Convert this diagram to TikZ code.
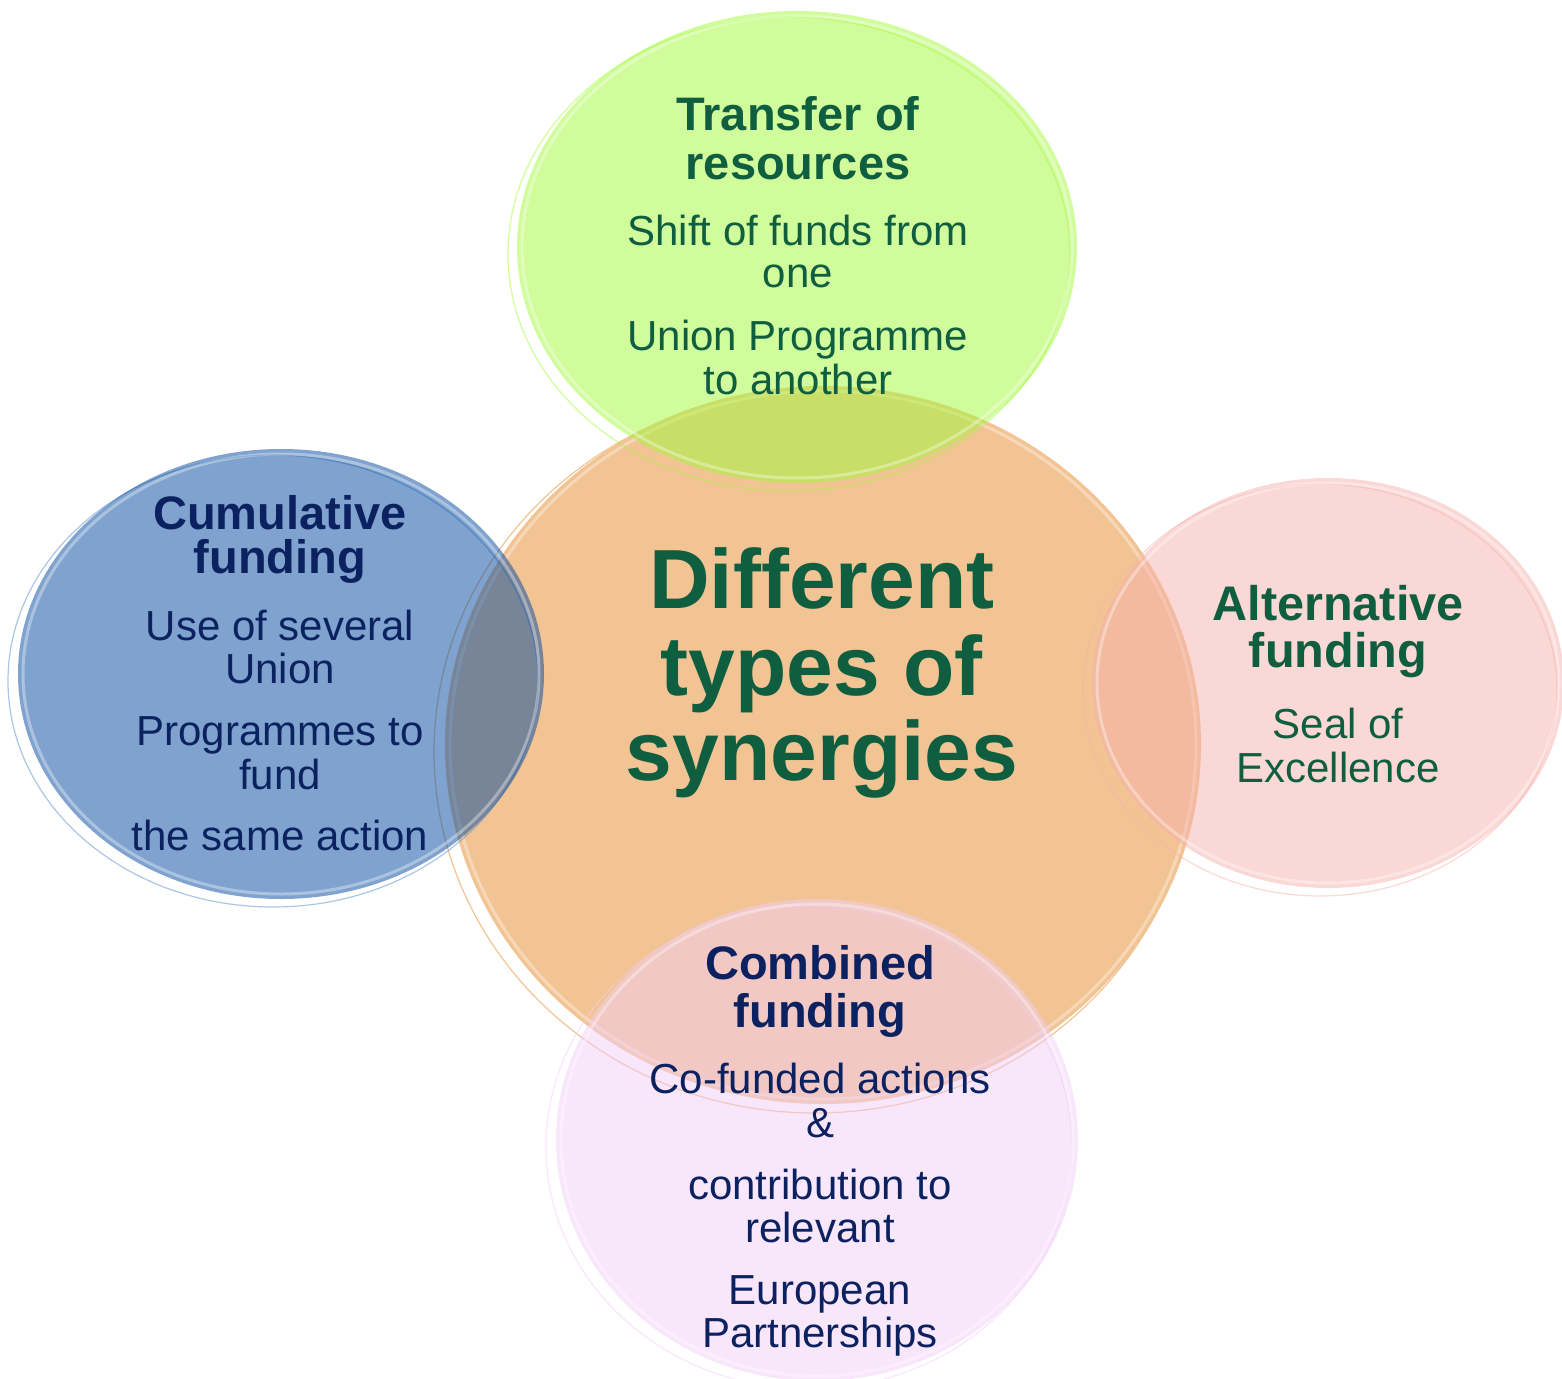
\documentclass[tikz,border=0pt]{standalone}
\usepackage{fontspec}
\setmainfont{Liberation Sans}
\definecolor{orangeC}{RGB}{242,196,148}
\definecolor{greenC}{RGB}{161,249,57}
\definecolor{blueC}{RGB}{0,71,157}
\definecolor{blueRing}{RGB}{90,140,205}
\definecolor{pinkC}{RGB}{245,177,173}
\definecolor{purpleC}{RGB}{241,205,245}
\definecolor{txtgreen}{RGB}{16,94,64}
\definecolor{txtnavy}{RGB}{12,34,96}
\tikzset{
  bubble/.style={fill=#1, fill opacity=0.5, draw=none},
  ring/.style={draw=#1, draw opacity=0.5, line width=0.6pt, fill=none},
  gloss/.style={draw=white, draw opacity=0.35, line width=1.5pt, fill=none},
  line/.style={anchor=base, inner sep=0pt, font=\fontsize{21}{21}\selectfont},
  head/.style={anchor=base, inner sep=0pt, font=\fontsize{23.5}{23.5}\selectfont\bfseries},
  headbig/.style={anchor=base, inner sep=0pt, font=\fontsize{24.3}{24.3}\selectfont\bfseries},
  big/.style={anchor=base, inner sep=0pt, font=\fontsize{42}{42}\selectfont\bfseries, text=txtgreen},
}
\begin{document}
\begin{tikzpicture}[x=0.5pt,y=-0.5pt]
\useasboundingbox (0,0) rectangle (1562,1379);
\clip (0,0) rectangle (1562,1379);
% centre
\draw[ring=orangeC, draw opacity=1] (815,752) ellipse [x radius=381, y radius=361];
\fill[orangeC] (823,745) ellipse [x radius=378, y radius=359];
\draw[gloss] (823,745) ellipse [x radius=373, y radius=354];
% top
\draw[ring=greenC] (789,254) ellipse [x radius=281, y radius=237];
\fill[bubble=greenC] (797,247) ellipse [x radius=280, y radius=236];
\draw[gloss] (797,247) ellipse [x radius=275, y radius=231];
% left
\draw[ring=blueRing] (273,681) ellipse [x radius=265, y radius=226];
\fill[bubble=blueC] (281,674) ellipse [x radius=263, y radius=225];
\draw[gloss] (281,674) ellipse [x radius=258, y radius=220];
% right
\draw[ring=pinkC] (1320,690) ellipse [x radius=237, y radius=206];
\fill[bubble=pinkC] (1328,683) ellipse [x radius=236, y radius=205];
\draw[gloss] (1328,683) ellipse [x radius=231, y radius=200];
% bottom
\draw[ring=purpleC] (809,1147) ellipse [x radius=263, y radius=242];
\fill[bubble=purpleC] (817,1140) ellipse [x radius=261, y radius=241];
\draw[gloss] (817,1140) ellipse [x radius=256, y radius=236];
% centre text
\node[big] (c1) at (822,608) {Different};
\node[big] (c2) at (822,695) {types of};
\node[big] (c3) at (822,780) {synergies};
% top text
\node[head, text=txtgreen] (g1) at (798,131) {Transfer of};
\node[head, text=txtgreen] (g2) at (798,180) {resources};
\node[line, text=txtgreen] (g3) at (798,246) {Shift of funds from};
\node[line, text=txtgreen] (g4) at (798,288) {one};
\node[line, text=txtgreen] (g5) at (798,351) {Union Programme};
\node[line, text=txtgreen] (g6) at (798,395) {to another};
% left text
\node[head, text=txtnavy] (b1) at (280,530) {Cumulative};
\node[head, text=txtnavy] (b2) at (280,573) {funding};
\node[line, text=txtnavy] (b3) at (280,640) {Use of several};
\node[line, text=txtnavy] (b4) at (280,683) {Union};
\node[line, text=txtnavy] (b5) at (280,745) {Programmes to};
\node[line, text=txtnavy] (b6) at (280,789) {fund};
\node[line, text=txtnavy] (b7) at (280,850) {the same action};
% right text
\node[headbig, text=txtgreen] (p1) at (1338,620) {Alternative};
\node[headbig, text=txtgreen] (p2) at (1338,667) {funding};
\node[line, text=txtgreen] (p3) at (1338,738) {Seal of};
\node[line, text=txtgreen] (p4) at (1338,782) {Excellence};
% bottom text
\node[head, text=txtnavy] (u1) at (820,979) {Combined};
\node[head, text=txtnavy] (u2) at (820,1027) {funding};
\node[line, text=txtnavy] (u3) at (820,1093) {Co-funded actions};
\node[line, text=txtnavy] (u4) at (820,1137) {\&};
\node[line, text=txtnavy] (u5) at (820,1199) {contribution to};
\node[line, text=txtnavy] (u6) at (820,1242) {relevant};
\node[line, text=txtnavy] (u7) at (820,1304) {European};
\node[line, text=txtnavy] (u8) at (820,1347) {Partnerships};
\end{tikzpicture}
\end{document}
